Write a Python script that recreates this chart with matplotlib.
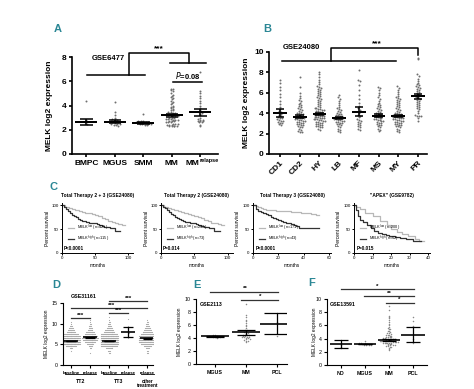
import numpy as np
import matplotlib
matplotlib.use('Agg')
import matplotlib.pyplot as plt

plt.rcParams['font.family'] = ['Liberation Sans', 'DejaVu Sans']
plt.rcParams['mathtext.fontset'] = 'custom'
plt.rcParams['mathtext.rm'] = 'Liberation Sans'
plt.rcParams['mathtext.bf'] = 'Liberation Sans:bold'

W, H = 474, 389
TEAL = '#2b8795'
DOT = '#6f6f6f'

# ---- panel A (GSE6477) ----
a_cats = ['BMPC', 'MGUS', 'SMM', 'MM', '']
a_last_main, a_last_sup = 'MM', 'relapse'
a_bmpc = [4.4, 2.8, 2.7, 2.6, 2.5]
a_mgus = [4.3, 3.5, 3.2, 3.0, 2.9, 2.85, 2.8, 2.75, 2.7, 2.7, 2.65, 2.6, 2.6, 2.55,
          2.5, 2.5, 2.45, 2.4, 2.4, 2.35]
a_smm = [3.3, 2.75, 2.7, 2.7, 2.65, 2.65, 2.6, 2.6, 2.6, 2.55, 2.55, 2.5, 2.5, 2.45,
         2.45, 2.4, 2.4]
a_mm = [5.4, 5.4, 5.3, 5.2, 5.0, 4.9, 4.8, 4.7, 4.6, 4.5, 4.4, 4.3, 4.2, 4.1, 4.0, 3.9,
        3.9, 3.8, 3.7, 3.6, 3.6, 3.5, 3.5, 3.4, 3.4, 3.3, 3.3, 3.3, 3.2, 3.2, 3.2, 3.1,
        3.1, 3.1, 3.0, 3.0, 3.0, 2.9, 2.9, 2.9, 2.8, 2.8, 2.8, 2.7, 2.7, 2.7, 2.6, 2.6,
        2.6, 2.5, 2.5, 2.5, 2.4, 2.4, 2.4, 2.35, 2.35, 2.3, 2.3, 2.3]
a_rel = [6.8, 5.2, 5.0, 4.8, 4.6, 4.4, 4.2, 4.0, 3.8, 3.6, 3.5, 3.4, 3.3, 3.2, 3.0, 2.9,
         2.8, 2.8, 2.7, 2.7, 2.7, 2.6, 2.6, 2.4, 2.3]
a_mean = [2.65, 2.68, 2.58, 3.2, 3.45]
a_sem = [0.22, 0.15, 0.07, 0.13, 0.3]

# ---- panel B (GSE24080) ----
b_cats = ['CD1', 'CD2', 'HY', 'LB', 'MF', 'MS', 'MY', 'PR']
b_cd1 = [7.3, 7.0, 6.6, 6.3, 5.9, 5.6, 5.2, 4.9, 4.6, 4.4, 4.2, 4.1, 4.0, 3.9, 3.8, 3.7,
         3.6, 3.5, 3.5, 3.4, 3.3, 3.2, 3.2, 3.1, 3.0, 3.0, 2.9, 2.8]
b_cd2 = [7.5, 6.6, 6.0, 5.7, 5.5, 5.3, 5.2, 5.0, 4.9, 4.8, 4.7, 4.6, 4.5, 4.4, 4.3, 4.2,
         4.1, 4.0, 4.0, 3.9, 3.9, 3.8, 3.8, 3.7, 3.7, 3.6, 3.6, 3.5, 3.5, 3.5, 3.4, 3.4,
         3.3, 3.3, 3.2, 3.2, 3.1, 3.1, 3.0, 3.0, 2.9, 2.9, 2.8, 2.8, 2.7, 2.6, 2.6, 2.5,
         2.4, 2.3, 2.2, 2.2]
b_hy = [8.0, 7.8, 7.5, 7.3, 7.1, 6.9, 6.7, 6.6, 6.5, 6.4, 6.3, 6.2, 6.1, 6.0, 5.9, 5.8,
        5.7, 5.6, 5.5, 5.4, 5.3, 5.2, 5.1, 5.0, 4.9, 4.8, 4.7, 4.6, 4.5, 4.5, 4.4, 4.4,
        4.3, 4.3, 4.2, 4.2, 4.1, 4.1, 4.0, 4.0, 4.0, 3.9, 3.9, 3.9, 3.8, 3.8, 3.8, 3.7,
        3.7, 3.7, 3.6, 3.6, 3.6, 3.5, 3.5, 3.5, 3.4, 3.4, 3.4, 3.3, 3.3, 3.2, 3.2, 3.1,
        3.1, 3.0, 3.0, 2.9, 2.9, 2.8, 2.8, 2.7, 2.7, 2.6, 2.6, 2.5, 2.4]
b_lb = [5.8, 5.6, 5.4, 5.2, 5.0, 4.8, 4.6, 4.5, 4.4, 4.3, 4.2, 4.1, 4.0, 3.9, 3.9, 3.8,
        3.8, 3.7, 3.7, 3.6, 3.6, 3.5, 3.5, 3.5, 3.4, 3.4, 3.3, 3.3, 3.2, 3.2, 3.1, 3.1,
        3.0, 3.0, 2.9, 2.9, 2.8, 2.7, 2.6, 2.5, 2.4, 2.3, 2.2]
b_mf = [8.2, 7.3, 7.2, 6.8, 6.3, 5.8, 5.4, 5.0, 4.7, 4.5, 4.3, 4.1, 4.0, 3.8, 3.7, 3.6,
        3.4, 3.3, 3.2, 3.1, 3.0, 2.9, 2.8, 2.7, 2.6, 2.5, 2.4]
b_ms = [6.6, 6.5, 6.3, 6.0, 5.8, 5.6, 5.4, 5.2, 5.0, 4.9, 4.8, 4.7, 4.6, 4.5, 4.4, 4.3,
        4.2, 4.1, 4.0, 4.0, 3.9, 3.9, 3.8, 3.8, 3.7, 3.7, 3.6, 3.6, 3.5, 3.5, 3.4, 3.4,
        3.3, 3.3, 3.2, 3.2, 3.1, 3.0, 3.0, 2.9, 2.8, 2.8, 2.7, 2.6, 2.5, 2.4, 2.3]
b_my = [6.7, 6.5, 6.3, 6.1, 5.9, 5.7, 5.6, 5.5, 5.4, 5.3, 5.2, 5.1, 5.0, 4.9, 4.8, 4.7,
        4.6, 4.5, 4.4, 4.3, 4.2, 4.1, 4.0, 4.0, 3.9, 3.9, 3.8, 3.8, 3.8, 3.7, 3.7, 3.7,
        3.6, 3.6, 3.6, 3.5, 3.5, 3.5, 3.4, 3.4, 3.3, 3.3, 3.2, 3.2, 3.1, 3.1, 3.0, 3.0,
        2.9, 2.9, 2.8, 2.8, 2.7, 2.7, 2.6, 2.5, 2.4, 2.3, 2.2]
b_pr = [9.4, 9.3, 7.8, 7.6, 7.4, 7.2, 7.0, 6.9, 6.8, 6.7, 6.6, 6.5, 6.4, 6.3, 6.2, 6.1,
        6.0, 5.9, 5.8, 5.7, 5.6, 5.5, 5.4, 5.3, 5.2, 5.1, 5.0, 4.9, 4.8, 4.7, 4.6, 4.5,
        4.4, 4.2, 4.0, 3.8, 3.75, 3.75, 3.7, 3.5, 3.2]
b_mean = [4.05, 3.65, 3.9, 3.55, 4.15, 3.75, 3.7, 5.65]
b_sem = [0.4, 0.15, 0.12, 0.12, 0.45, 0.15, 0.1, 0.25]

# ---- panel C (Kaplan-Meier) ----
c_titles = ['Total Therapy 2 + 3 (GSE24080)', 'Total Therapy 2 (GSE24080)',
            'Total Therapy 3 (GSE24080)', '"APEX" (GSE9782)']
c_n_low = [425, 263, 171, 200]
c_n_high = [115, 73, 43, 62]
c_pvals = ['P<0.0001', 'P=0.014', 'P<0.0001', 'P=0.015']
c_xmax = [107, 108, 61.5, 41]
c_xticks = [[0, 50, 100], [0, 50, 100], [0, 20, 40, 60], [0, 10, 20, 30, 40]]
c1_low_t = [0, 5, 10, 15, 20, 25, 30, 35, 40, 45, 50, 55, 60, 65, 70, 75, 80, 85, 90, 95]
c1_low_s = [100, 97, 95, 93, 91, 89, 87, 85, 83, 81, 79, 77, 74, 71, 68, 65, 63, 61, 59, 59]
c1_high_t = [0, 3, 6, 9, 12, 15, 18, 21, 24, 27, 30, 33, 36, 40, 44, 48, 52, 56, 60, 64,
             68, 72, 76, 80, 84, 88]
c1_high_s = [100, 96, 92, 88, 84, 80, 77, 75, 72, 70, 68, 67, 65, 64, 63, 62, 61, 59, 57,
             55, 54, 53, 52, 46, 46, 46]
c2_low_t = [0, 5, 10, 15, 20, 25, 30, 35, 40, 45, 50, 55, 60, 65, 70, 75, 80, 85, 90, 95]
c2_low_s = [100, 97, 94, 92, 90, 88, 86, 84, 82, 80, 78, 76, 73, 70, 67, 64, 62, 60, 58, 58]
c2_high_t = [0, 3, 6, 9, 12, 15, 18, 21, 24, 27, 30, 33, 36, 40, 44, 48, 52, 56, 60, 64,
             68, 72, 76, 80, 84, 88]
c2_high_s = [100, 97, 94, 90, 86, 82, 79, 76, 74, 72, 70, 68, 66, 65, 63, 62, 61, 59, 57,
             55, 54, 53, 52, 47, 47, 47]
c3_low_t = [0, 2, 4, 6, 8, 10, 14, 18, 22, 26, 30, 34, 38, 42, 46, 50, 52]
c3_low_s = [100, 98, 96, 94, 92, 91, 90, 89, 88, 88, 87, 86, 85, 84, 82, 80, 80]
c3_high_t = [0, 2, 4, 6, 8, 10, 12, 14, 16, 18, 20, 22, 24, 26, 28, 30, 32, 34, 36, 52]
c3_high_s = [100, 93, 88, 86, 84, 82, 80, 76, 74, 72, 70, 68, 66, 64, 62, 60, 58, 56, 52, 52]
c4_low_t = [0, 1, 3, 6, 10, 14, 18, 20, 23, 26, 29, 31, 33, 35, 38]
c4_low_s = [100, 97, 92, 85, 78, 68, 58, 50, 45, 40, 36, 35, 30, 26, 26]
c4_high_t = [0, 1, 2, 3, 5, 7, 9, 11, 13, 15, 17, 19, 22, 25, 28, 31, 32, 36]
c4_high_s = [100, 90, 78, 70, 65, 58, 52, 47, 43, 40, 37, 35, 33, 31, 30, 30, 25, 25]

# ---- panel D (GSE31161) ----
d_cats = ['baseline', 'relapse', 'baseline', 'relapse', 'relapse']
d_levels = [3.0, 3.5, 4.0, 4.5, 5.0, 5.5, 6.0, 6.5, 7.0, 7.5, 8.0, 8.5, 9.0, 9.5, 10.0,
            10.5, 11.0, 11.5, 12.0]
d_tt2_base = [0, 1, 4, 12, 30, 45, 40, 30, 22, 15, 10, 7, 5, 3, 2, 1, 0, 0, 0]
d_tt2_rel = [1, 0, 2, 4, 8, 12, 16, 18, 16, 12, 9, 6, 4, 3, 2, 1, 1, 0, 0]
d_tt3_base = [2, 3, 8, 18, 35, 50, 45, 35, 25, 18, 12, 9, 6, 4, 3, 2, 1, 1, 0]
d_other = [2, 2, 4, 8, 14, 20, 24, 24, 20, 15, 11, 8, 6, 4, 3, 2, 1, 0, 0]
d_tt3_rel = [11.2, 9.5, 9.0, 8.6, 8.1, 7.8, 7.2, 6.8, 6.6]
d_mean = [5.8, 6.7, 5.8, 8.0, 6.5]
d_sem = [0.08, 0.15, 0.07, 1.2, 0.15]

# ---- panel E (GSE2113) ----
e_cats = ['MGUS', 'MM', 'PCL']
e_mgus = [4.5, 4.4, 4.35, 4.3, 4.3, 4.25, 4.2, 4.2, 4.15, 4.1, 4.1, 4.0]
e_mm = [9.2, 7.6, 7.2, 6.8, 6.6, 6.3, 6.0, 5.8, 5.5, 5.3, 5.2, 5.0, 4.9, 4.8, 4.7, 4.6,
        4.5, 4.5, 4.4, 4.4, 4.3, 4.3, 4.2, 4.2, 4.1, 4.1, 4.0, 4.0, 3.9, 3.8, 3.7, 3.6,
        3.5, 3.4]
e_pcl = [7.9, 6.4, 4.3]
e_mean = [4.25, 4.85, 6.2]
e_err = [0.06, 0.32, 1.65]

# ---- panel F (GSE13591) ----
f_cats = ['ND', 'MGUS', 'MM', 'PCL']
f_nd = [3.8, 3.4, 3.1, 2.8, 2.6]
f_mgus = [3.7, 3.4, 3.3, 3.3, 3.25, 3.2, 3.2, 3.15, 3.1, 3.1, 3.05, 3.0]
f_mm = [9.0, 8.3, 7.5, 7.3, 7.1, 6.8, 6.5, 6.2, 6.0, 5.8, 5.6, 5.5, 5.4, 5.2, 5.1, 5.0,
        4.9, 4.8, 4.7, 4.6, 4.5, 4.5, 4.4, 4.4, 4.3, 4.3, 4.2, 4.2, 4.1, 4.1, 4.0, 4.0,
        4.0, 3.9, 3.9, 3.9, 3.8, 3.8, 3.8, 3.8, 3.7, 3.7, 3.7, 3.7, 3.6, 3.6, 3.6, 3.6,
        3.5, 3.5, 3.5, 3.5, 3.4, 3.4, 3.4, 3.3, 3.3, 3.3, 3.2, 3.2, 3.2, 3.1, 3.1, 3.0,
        3.0, 2.9, 2.9, 2.8, 2.7, 2.6, 2.5, 2.3]
f_pcl = [7.3, 6.7, 5.9, 4.0, 3.5, 3.4]
f_mean = [3.15, 3.2, 3.8, 4.6]
f_err = [0.6, 0.05, 0.12, 1.15]


fig = plt.figure(figsize=(W / 100, H / 100), dpi=100)


def px_axes(l, t, r, b):
  return fig.add_axes([l / W, 1 - b / H, (r - l) / W, (b - t) / H])


def swarm_x(vals, center, dy, dx, maxw):
  vals = np.asarray(vals, float)
  xs = np.zeros_like(vals)
  bins = np.round(vals / dy).astype(int)
  for b in np.unique(bins):
    idx = np.where(bins == b)[0]
    n = len(idx)
    off = (np.arange(n) - (n - 1) / 2) * dx
    if n > 1 and off.max() > maxw:
      off = off * maxw / off.max()
    xs[idx] = center + off
  return xs


def mean_sem(ax, x, m, e, mw, cw, lw):
  ax.hlines(m, x - mw, x + mw, color='k', lw=lw * 1.3, zorder=4)
  ax.vlines(x, m - e, m + e, color='k', lw=lw, zorder=4)
  ax.hlines([m - e, m + e], x - cw, x + cw, color='k', lw=lw, zorder=4)


def style(ax, lw, fs):
  for s in ['top', 'right']:
    ax.spines[s].set_visible(False)
  for s in ['left', 'bottom']:
    ax.spines[s].set_linewidth(lw)
  ax.tick_params(width=lw, length=2.5, labelsize=fs, pad=1.5)


# ================= A =================
ax = px_axes(72, 57, 218, 154)
style(ax, 1.2, 6)
groups = [a_bmpc, a_mgus, a_smm, a_mm, a_rel]
for i, g in enumerate(groups):
  ax.scatter(swarm_x(g, i, 0.15, 0.085, 0.4), g, s=2.0, color=DOT, lw=0, zorder=2)
  mean_sem(ax, i, a_mean[i], a_sem[i], 0.38, 0.22, 1.1)
ax.set_xlim(-0.5, 4.62)
ax.set_ylim(0, 8)
ax.set_yticks([0, 2, 4, 6, 8])
ax.set_xticks(range(5))
ax.set_xticklabels(a_cats, fontweight='bold')
ax.set_yticklabels([0, 2, 4, 6, 8], fontweight='bold')
tr = ax.get_xaxis_transform()
ax.text(3.72, -0.058, a_last_main, transform=tr, ha='center', va='top', fontsize=6,
        fontweight='bold')
ax.text(3.97, -0.045, a_last_sup, transform=tr, ha='left', va='top', fontsize=4,
        fontweight='bold')
ax.set_ylabel('MELK log2 expression', fontsize=6, fontweight='bold')
ax.yaxis.set_label_coords(-0.13, 0.5)
kw = dict(color='k', lw=1.1, clip_on=False)
ax.plot([0.02, 2.05], [6.5, 6.5], **kw)
ax.plot([1.5, 1.5, 3.6, 3.6], [6.5, 8.33, 8.33, 7.5], **kw)
ax.plot([2.95, 4.2], [7.5, 7.5], **kw)
ax.plot([3.05, 4.05], [5.95, 5.95], **kw)
ax.text(2.55, 8.4, '***', ha='center', va='bottom', fontsize=6, fontweight='bold')
ax.text(3.55, 6.05, r'$\it{P}$=0.08', ha='center', va='bottom', fontsize=5.5,
        fontweight='bold')
ax.text(0.2, 7.85, 'GSE6477', ha='left', va='center', fontsize=5.5, fontweight='bold')

# ================= B =================
ax = px_axes(269, 52, 427, 154)
style(ax, 1.2, 6)
groups = [b_cd1, b_cd2, b_hy, b_lb, b_mf, b_ms, b_my, b_pr]
for i, g in enumerate(groups):
  ax.scatter(swarm_x(g, i, 0.22, 0.1, 0.42), g, s=2.0, color=DOT, lw=0, zorder=2)
  mean_sem(ax, i, b_mean[i], b_sem[i], 0.35, 0.22, 1.1)
ax.set_xlim(-0.56, 7.46)
ax.set_ylim(0, 10)
ax.set_yticks([0, 2, 4, 6, 8, 10])
ax.set_yticklabels([0, 2, 4, 6, 8, 10], fontweight='bold')
ax.set_xticks(range(8))
ax.set_xticklabels(b_cats, fontweight='bold', rotation=45, ha='right',
                   rotation_mode='anchor')
ax.set_ylabel('MELK log2 expression', fontsize=6, fontweight='bold')
ax.yaxis.set_label_coords(-0.12, 0.5)
ax.plot([0.1, 5.9], [9.1, 9.1], **kw)
ax.plot([2.6, 2.6, 7.0, 7.0], [9.1, 10.4, 10.4, 9.7], **kw)
ax.text(4.9, 10.5, '***', ha='center', va='bottom', fontsize=6, fontweight='bold')
ax.text(0.15, 10.4, 'GSE24080', ha='left', va='center', fontsize=5.5, fontweight='bold')

# ================= C =================
c_rects = [(62, 203, 133, 253), (161, 203, 233, 253), (253, 203, 331, 253),
           (354, 203, 430, 253)]
c_curves = [(c1_low_t, c1_low_s, c1_high_t, c1_high_s),
            (c2_low_t, c2_low_s, c2_high_t, c2_high_s),
            (c3_low_t, c3_low_s, c3_high_t, c3_high_s),
            (c4_low_t, c4_low_s, c4_high_t, c4_high_s)]
for k in range(4):
  ax = px_axes(*c_rects[k])
  style(ax, 0.7, 3.2)
  ax.tick_params(length=1.5, pad=1)
  lt, ls, ht, hs = c_curves[k]
  ax.step(lt, ls, where='post', color='#b8b8b8', lw=0.9,
          label=r'MELK$^{\rm low}$ (n=%d)' % c_n_low[k])
  ax.step(ht, hs, where='post', color='#333333', lw=0.9,
          label=r'MELK$^{\rm high}$ (n=%d)' % c_n_high[k])
  ax.set_xlim(0, c_xmax[k])
  ax.set_ylim(0, 105)
  ax.set_xticks(c_xticks[k])
  ax.set_yticks([0, 50, 100])
  ax.set_xlabel('months', fontsize=3.5, labelpad=1.5)
  ax.set_ylabel('Percent survival', fontsize=3.5, labelpad=1)
  ax.yaxis.set_label_coords(-0.17, 0.5)
  ax.set_title(c_titles[k], fontsize=3.5, pad=4, fontweight='bold')
  ax.legend(loc='lower left', bbox_to_anchor=(0.04, 0.12), fontsize=2.8,
            handlelength=1.6, frameon=False, borderpad=0.2, labelspacing=0.3)
  ax.text(0.03, 0.03, c_pvals[k], transform=ax.transAxes, fontsize=3.3,
          fontweight='bold', ha='left', va='bottom')

# ================= D =================
ax = px_axes(63, 303, 153, 365)
style(ax, 0.8, 3.8)
dense = [d_tt2_base, d_tt2_rel, d_tt3_base, None, d_other]
for i, cnt in enumerate(dense):
  if cnt is None:
    vals = np.asarray(d_tt3_rel)
  else:
    vals = np.repeat(d_levels, cnt)
  ax.scatter(swarm_x(vals, i, 0.5, 0.05, 0.45), vals, s=0.7, color='#a8a8a8', lw=0,
             zorder=2)
  mean_sem(ax, i, d_mean[i], d_sem[i], 0.38, 0.25, 0.9)
ax.set_xlim(-0.42, 4.3)
ax.set_ylim(0, 15)
ax.set_yticks([0, 5, 10, 15])
ax.set_xticks(range(5))
ax.set_xticklabels(d_cats, fontweight='bold', fontsize=3.2)
ax.set_ylabel('MELK log2 expression', fontsize=3.4)
ax.yaxis.set_label_coords(-0.15, 0.5)
kw2 = dict(color='#333333', lw=0.9, clip_on=False)
ax.plot([0, 1], [11.4, 11.4], **kw2)
ax.plot([2, 3], [12.6, 12.6], **kw2)
ax.plot([0, 4], [13.8, 13.8], **kw2)
ax.plot([2, 4], [15.5, 15.5], **kw2)
for xx, yy in [(0.5, 11.5), (2.5, 12.7), (2.1, 13.9), (3.0, 15.6)]:
  ax.text(xx, yy, '***', ha='center', va='bottom', fontsize=4.5, fontweight='bold')
ax.text(0.0, 16.0, 'GSE31161', ha='left', va='bottom', fontsize=3.8, fontweight='bold')
trans = ax.get_xaxis_transform()
for x0, x1 in [(-0.3, 1.3), (1.7, 3.3), (3.65, 4.35)]:
  ax.plot([x0, x1], [-0.15, -0.15], color='k', lw=0.6, transform=trans, clip_on=False)
ax.text(0.5, -0.22, 'TT2', transform=trans, ha='center', va='top', fontsize=3.8,
        fontweight='bold')
ax.text(2.5, -0.22, 'TT3', transform=trans, ha='center', va='top', fontsize=3.8,
        fontweight='bold')
ax.text(4.0, -0.22, 'other\ntreatment', transform=trans, ha='center', va='top',
        fontsize=3.3, fontweight='bold', linespacing=0.9)

# ================= E =================
ax = px_axes(196, 299, 287, 364)
style(ax, 0.8, 3.8)
groups = [e_mgus, e_mm, e_pcl]
for i, g in enumerate(groups):
  ax.scatter(swarm_x(g, i, 0.2, 0.07, 0.38), g, s=1.2, color='#8a8a8a', lw=0, zorder=2)
  mw = 0.45 if i < 2 else 0.55
  cw = 0.3 if i < 2 else 0.4
  mean_sem(ax, i, e_mean[i], e_err[i], mw, cw, 0.9)
ax.set_xlim(-0.61, 2.33)
ax.set_ylim(0, 10)
ax.set_yticks([0, 2, 4, 6, 8, 10])
ax.set_xticks(range(3))
ax.set_xticklabels(e_cats, fontweight='bold')
ax.set_ylabel('MELK log2 expression', fontsize=3.4)
ax.yaxis.set_label_coords(-0.15, 0.5)
ax.plot([-0.15, 2.05], [11.1, 11.1], **kw2)
ax.plot([0.85, 2.05], [9.85, 9.85], **kw2)
ax.text(1.0, 11.2, '**', ha='center', va='bottom', fontsize=4.5, fontweight='bold')
ax.text(1.45, 9.95, '*', ha='center', va='bottom', fontsize=4.5, fontweight='bold')
ax.text(-0.5, 9.1, 'GSE2113', ha='left', va='center', fontsize=3.8, fontweight='bold')

# ================= F =================
ax = px_axes(327, 299, 427, 365)
style(ax, 0.8, 3.8)
groups = [f_nd, f_mgus, f_mm, f_pcl]
for i, g in enumerate(groups):
  ax.scatter(swarm_x(g, i, 0.2, 0.07, 0.38), g, s=1.2, color='#8a8a8a', lw=0, zorder=2)
  mw = 0.45 if i != 3 else 0.5
  mean_sem(ax, i, f_mean[i], f_err[i], mw, 0.3, 0.9)
ax.set_xlim(-0.58, 3.59)
ax.set_ylim(0, 10)
ax.set_yticks([0, 2, 4, 6, 8, 10])
ax.set_xticks(range(4))
ax.set_xticklabels(f_cats, fontweight='bold')
ax.set_ylabel('MELK log2 expression', fontsize=3.4)
ax.yaxis.set_label_coords(-0.1, 0.5)
ax.plot([0, 3.05], [11.5, 11.5], **kw2)
ax.plot([0.95, 3.05], [10.4, 10.4], **kw2)
ax.plot([1.9, 3.05], [9.4, 9.4], **kw2)
ax.text(1.5, 11.6, '*', ha='center', va='bottom', fontsize=4.5, fontweight='bold')
ax.text(2.0, 10.5, '**', ha='center', va='bottom', fontsize=4.5, fontweight='bold')
ax.text(2.45, 9.5, '*', ha='center', va='bottom', fontsize=4.5, fontweight='bold')
ax.text(-0.45, 9.1, 'GSE13591', ha='left', va='center', fontsize=3.8, fontweight='bold')

# panel letters
for lab, x, y in [('A', 58, 29), ('B', 267, 29), ('C', 53, 187), ('D', 56, 285),
                  ('E', 197, 285), ('F', 312, 283)]:
  fig.text(x / W, 1 - y / H, lab, color=TEAL, fontsize=8, fontweight='bold',
           ha='center', va='center')

fig.savefig('out.png', dpi=100)
